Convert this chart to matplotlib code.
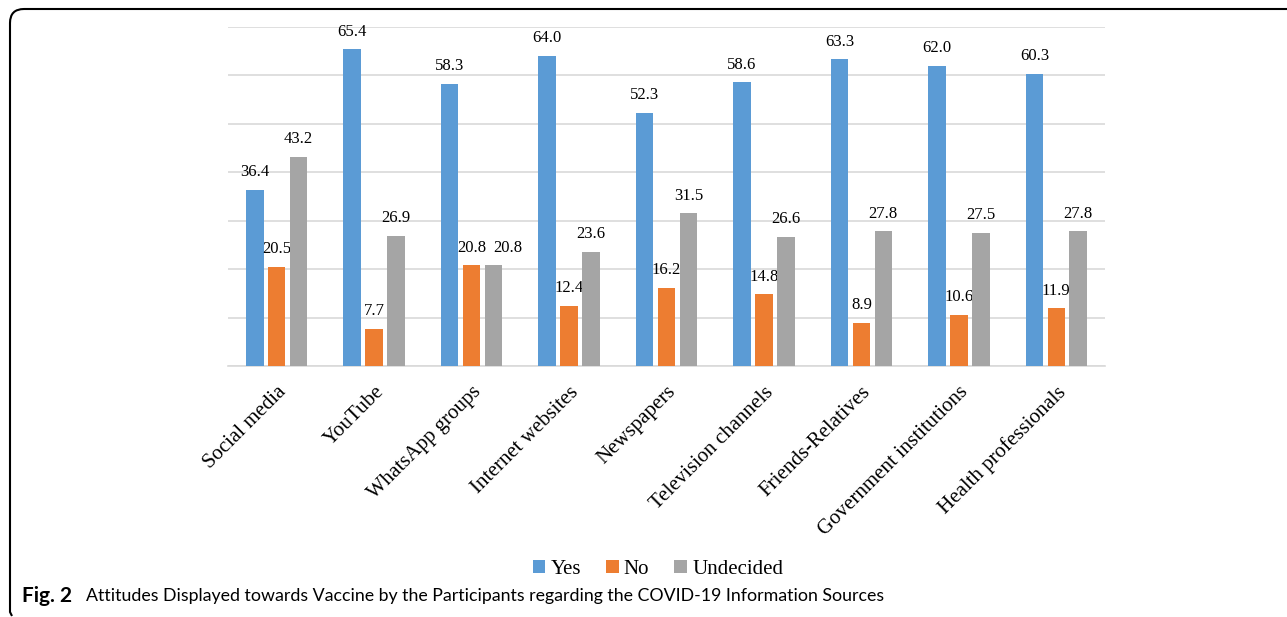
import numpy as np
import matplotlib
matplotlib.use("Agg")
import matplotlib.pyplot as plt
from matplotlib.patches import PathPatch
from matplotlib.path import Path
from matplotlib.transforms import IdentityTransform

categories = ["Social media", "YouTube", "WhatsApp groups", "Internet websites",
              "Newspapers", "Television channels", "Friends-Relatives",
              "Government institutions", "Health professionals"]
yes = [36.4, 65.4, 58.3, 64.0, 52.3, 58.6, 63.3, 62.0, 60.3]
no = [20.5, 7.7, 20.8, 12.4, 16.2, 14.8, 8.9, 10.6, 11.9]
undecided = [43.2, 26.9, 20.8, 23.6, 31.5, 26.6, 27.8, 27.5, 27.8]

series = [("Yes", yes, "#5B9BD5"), ("No", no, "#ED7D31"), ("Undecided", undecided, "#A5A5A5")]

plt.rcParams['font.family'] = ['Liberation Serif', 'DejaVu Serif']

fig = plt.figure(figsize=(12.87, 6.17), dpi=100)
ax = fig.add_axes([228 / 1287, 1 - 366 / 617, (1105 - 228) / 1287, (366 - 27) / 617])

x = np.arange(len(categories))
width = 0.18
step = 0.225
for i, (name, vals, color) in enumerate(series):
    pos = x + (i - 1) * step
    bars = ax.bar(pos, vals, width, color=color, label=name, zorder=3)
    for j, (b, v) in enumerate(zip(bars, vals)):
        cx = b.get_x() + b.get_width() / 2
        ha = "center"
        # nudge the undecided label when it would collide with the "No" label
        if name == "Undecided" and abs(v - no[j]) < 1.5:
            ha = "left"
        ax.text(cx, v + 2.0, f"{v:.1f}", ha=ha, va="bottom", fontsize=12, color="#000000")

ax.set_xlim(-0.5, len(categories) - 0.5)
ax.set_ylim(0, 70)
ax.set_yticks(np.arange(0, 71, 10))
ax.set_yticklabels([])
ax.tick_params(axis="y", length=0)
ax.tick_params(axis="x", length=0, pad=12)
ax.set_xticks(x)
ax.set_xticklabels(categories, rotation=45, ha="right", rotation_mode="anchor", fontsize=15)
ax.grid(axis="y", color="#D9D9D9", linewidth=1.2, zorder=0)
for s in ["top", "right", "left"]:
    ax.spines[s].set_visible(False)
ax.spines["bottom"].set_color("#D9D9D9")
ax.spines["bottom"].set_linewidth(1.2)

handles, labels = ax.get_legend_handles_labels()
fig.legend(handles, labels, loc="center", bbox_to_anchor=(658 / 1287, 1 - 569 / 617),
           ncol=3, frameon=False, fontsize=15, handlelength=0.6, handleheight=0.6,
           handletextpad=0.25, columnspacing=1.2)

fig.text(22 / 1287, 1 - 596 / 617, "Fig. 2", fontsize=15, fontweight="bold",
         family="Lato", va="center", ha="left")
fig.text(86 / 1287, 1 - 596 / 617,
         "Attitudes Displayed towards Vaccine by the Participants regarding the COVID-19 Information Sources",
         fontsize=12.8, family="Lato", va="center", ha="left")

# open frame: left edge and top edge with a rounded corner, bottom left slightly hooked
H = 617
r = 14
verts = [(12, H - 616), (10, H - 612), (10, H - 9 - r), (10, H - 9), (10 + r, H - 9), (1300, H - 9)]
codes = [Path.MOVETO, Path.LINETO, Path.LINETO, Path.CURVE3, Path.CURVE3, Path.LINETO]
frame = PathPatch(Path(verts, codes), transform=IdentityTransform(), fill=False,
                  edgecolor="#000000", linewidth=1.5)
fig.patches.append(frame)

fig.savefig("out.png", dpi=100)
